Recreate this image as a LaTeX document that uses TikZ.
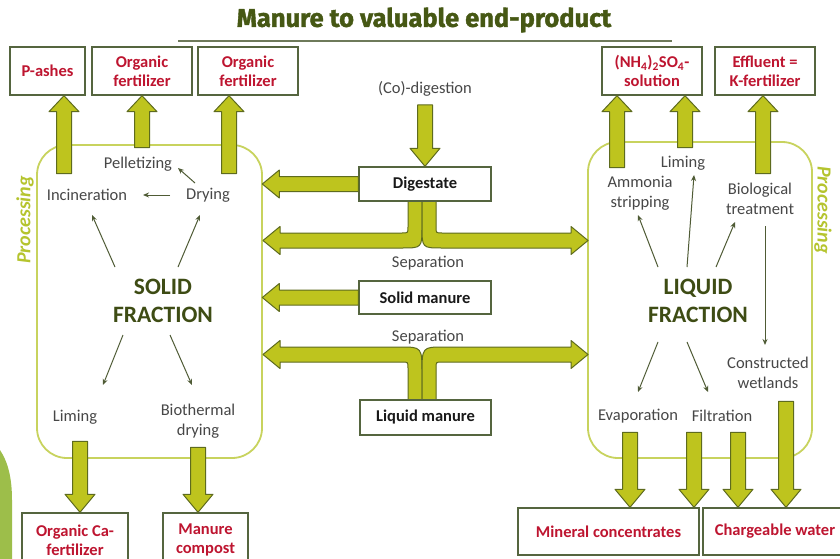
\documentclass[tikz,border=0pt]{standalone}
\usepackage{fontspec}
\setmainfont{Carlito}
\newfontfamily\titlefont[BoldFeatures={FakeBold=1.5}]{Fira Sans}
\usetikzlibrary{calc,arrows.meta}
\definecolor{arrfill}{HTML}{BEC41E}
\definecolor{arrdraw}{HTML}{5E6B1E}
\definecolor{panelc}{HTML}{C8D35E}
\definecolor{procc}{HTML}{B5C42E}
\definecolor{boxc}{HTML}{55653F}
\definecolor{redc}{HTML}{BE1530}
\definecolor{grayc}{HTML}{474747}
\definecolor{darkg}{HTML}{3E4C14}
\definecolor{titlec}{HTML}{465814}
\definecolor{rulec}{HTML}{6E7A5A}
\definecolor{leafc}{HTML}{9DBE4A}
\definecolor{thinc}{HTML}{4F5B35}
\newcommand\blkup[2]{\filldraw[blk] let \p1=(#1), \p2=(#2) in
  (\x2-7.5pt,\y1) -- (\x2-7.5pt,\y2-16pt) -- (\x2-15pt,\y2-16pt) -- (\x2,\y2) --
  (\x2+15pt,\y2-16pt) -- (\x2+7.5pt,\y2-16pt) -- (\x2+7.5pt,\y1) -- cycle;}
\newcommand\blkdown[2]{\filldraw[blk] let \p1=(#1), \p2=(#2) in
  (\x2-7.5pt,\y1) -- (\x2-7.5pt,\y2+18pt) -- (\x2-15pt,\y2+18pt) -- (\x2,\y2) --
  (\x2+15pt,\y2+18pt) -- (\x2+7.5pt,\y2+18pt) -- (\x2+7.5pt,\y1) -- cycle;}
\newcommand\blkleft[2]{\filldraw[blk] let \p1=(#1), \p2=(#2) in
  (\x1,\y2+7.5pt) -- (\x2+17pt,\y2+7.5pt) -- (\x2+17pt,\y2+14pt) -- (\x2,\y2) --
  (\x2+17pt,\y2-14pt) -- (\x2+17pt,\y2-7.5pt) -- (\x1,\y2-7.5pt) -- cycle;}
\begin{document}
\begin{tikzpicture}[x=1pt,y=-1pt,
  blk/.style={fill=arrfill,draw=arrdraw,line width=1pt,line join=round},
  panel/.style={draw=panelc,line width=1.8pt,rounded corners=30pt},
  box/.style={draw=boxc,line width=1.4pt,fill=white,inner sep=2pt,align=center,
    font=\fontsize{16.5}{19}\selectfont\bfseries},
  redbox/.style={box,text=redc},
  blackbox/.style={box,text=black!90},
  lab/.style={text=grayc,font=\fontsize{16.5}{20}\selectfont,align=center,inner sep=1pt},
  frac/.style={text=darkg,font=\fontsize{23.5}{28}\selectfont\bfseries,align=center},
  proc/.style={text=procc,font=\fontsize{20}{24}\selectfont\bfseries\itshape},
  thinarr/.style={draw=thinc,line width=1pt,-{Stealth[length=6pt,width=5pt]}}]
\useasboundingbox (0,0) rectangle (840,559);
\clip (0,0) rectangle (840,559);
\fill[white] (0,0) rectangle (840,559);

% left decorative shape
\fill[leafc] (0,450) .. controls (8,462) and (12,478) .. (12,500) -- (12,559) -- (0,559) -- cycle;

% title
\node[font=\titlefont\bfseries\fontsize{25.5}{30}\selectfont,text=titlec] (title) at (424,20) {Manure to valuable end-product};
\draw[rulec,line width=1.5pt] (178,41) -- (672,41);

% panels
\draw[panel] (37,145) rectangle (262,458);
\draw[panel] (588,142) rectangle (812,458);
\node[proc,rotate=90] (procl) at (25,220) {Processing};
\node[proc,rotate=-90] (procr) at (823,210) {Processing};

% nodes (boxes)
\node[redbox,minimum width=75,minimum height=48] (pash) at (47.5,71) {P-ashes};
\node[redbox,minimum width=100,minimum height=48] (orgf1) at (142,71) {Organic\\fertilizer};
\node[redbox,minimum width=100,minimum height=48] (orgf2) at (248,71) {Organic\\fertilizer};
\node[redbox,minimum width=100,minimum height=48] (amso) at (652,71) {(NH\textsubscript{4})\textsubscript{2}SO\textsubscript{4}-\\solution};
\node[redbox,minimum width=100,minimum height=48] (effl) at (765,71) {Effluent =\\K-fertilizer};
\node[redbox,minimum width=106,minimum height=54] (orgca) at (75,540) {Organic Ca-\\fertilizer};
\node[redbox,minimum width=85,minimum height=54] (comp) at (205.5,540) {Manure\\compost};
\node[redbox,minimum width=181,minimum height=47] (mine) at (608.5,531.5) {Mineral concentrates};
\node[redbox,minimum width=144,minimum height=47] (charge) at (775,531.5) {Chargeable water};

% labels
\node[lab] (codig) at (425,89) {(Co)-digestion};
\node[lab] (sep1) at (428,263) {Separation};
\node[lab] (sep2) at (428,337) {Separation};

% block arrows
\blkup{$(pash.south)+(16.5,78)$}{$(pash.south)+(16.5,0)$}
\blkup{$(orgf1.south)+(0,52)$}{orgf1.south}
\blkup{$(orgf2.south)+(-19,78)$}{$(orgf2.south)+(-19,0)$}
\blkup{$(amso.south)+(-35,72)$}{$(amso.south)+(-35,0)$}
\blkup{$(amso.south)+(33,52)$}{$(amso.south)+(33,0)$}
\blkup{$(effl.south)+(-2,78)$}{$(effl.south)+(-2,0)$}
\blkdown{$(orgca.north)+(5,-71)$}{$(orgca.north)+(5,0)$}
\blkdown{$(comp.north)+(-7.5,-65)$}{$(comp.north)+(-7.5,0)$}
\blkdown{$(mine.north)+(21.5,-75)$}{$(mine.north)+(21.5,0)$}
\blkdown{$(mine.north)+(85.5,-75)$}{$(mine.north)+(85.5,0)$}
\blkdown{$(charge.north)+(-37,-75)$}{$(charge.north)+(-37,0)$}
\blkdown{$(charge.north)+(11,-106)$}{$(charge.north)+(11,0)$}

% split arrows
\filldraw[blk] (408,201) -- (408,227) .. controls (408,233) .. (402,233) -- (280,233) -- (280,226.5) -- (263,240.5) -- (280,254.5) -- (280,248) -- (402,248) .. controls (422,248) .. (422,226) -- (422,201) -- cycle;
\filldraw[blk] (436,201) -- (436,227) .. controls (436,233) .. (442,233) -- (571,233) -- (571,226.5) -- (588,240.5) -- (571,254.5) -- (571,248) -- (442,248) .. controls (422,248) .. (422,226) -- (422,201) -- cycle;
\filldraw[blk] (408,400) -- (408,368) .. controls (408,362) .. (402,362) -- (280,362) -- (280,368.5) -- (263,354.5) -- (280,340.5) -- (280,347) -- (400,347) .. controls (422,347) .. (422,374) -- (422,400) -- cycle;
\filldraw[blk] (436,400) -- (436,368) .. controls (436,362) .. (442,362) -- (571,362) -- (571,368.5) -- (588,354.5) -- (571,340.5) -- (571,347) -- (444,347) .. controls (422,347) .. (422,374) -- (422,400) -- cycle;

% middle boxes
\node[blackbox,minimum width=132,minimum height=34] (dig) at (425,184) {Digestate};
\node[blackbox,minimum width=132,minimum height=33] (solm) at (425,297.5) {Solid manure};
\node[blackbox,minimum width=131,minimum height=35] (liqm) at (425.5,417.5) {Liquid manure};

\blkdown{$(codig)+(0,16)$}{dig.north}
\blkleft{dig.west}{$(dig.west)+(-96,0)$}
\blkleft{solm.west}{$(solm.west)+(-96,0)$}

% left panel contents
\node[lab] (pel) at (138,164) {Pelletizing};
\node[lab] (inc) at (87,195) {Incineration};
\node[lab] (dry) at (208,195) {Drying};
\node[frac] (sf) at (163,301) {SOLID\\FRACTION};
\node[lab] (lim1) at (75,417) {Liming};
\node[lab] (bio) at (198,421.5) {Biothermal\\drying};

\draw[thinarr] ($(dry)+(-38,0)$) -- ($(inc)+(56,0)$);
\draw[thinarr] ($(dry)+(-13,-12)$) -- ($(pel)+(40,4)$);
\draw[thinarr] ($(sf)+(-48,-34)$) -- ($(inc)+(5,20)$);
\draw[thinarr] ($(sf)+(15,-34)$) -- ($(dry)+(-8,20)$);
\draw[thinarr] ($(sf)+(-40,34)$) -- ($(lim1)+(28,-32)$);
\draw[thinarr] ($(sf)+(7,34)$) -- ($(bio)+(-6,-36.5)$);

% right panel contents
\node[lab] (lim2) at (683,163) {Liming};
\node[lab] (amm) at (640,193) {Ammonia\\stripping};
\node[lab] (biol) at (760,198.5) {Biological\\treatment};
\node[frac] (lf) at (698,301) {LIQUID\\FRACTION};
\node[lab] (cw) at (768,373) {Constructed\\wetlands};
\node[lab] (evap) at (638,416) {Evaporation};
\node[lab] (filt) at (722,416) {Filtration};

\draw[thinarr] ($(lf)+(-40,-34)$) -- ($(amm)+(-2,22)$);
\draw[thinarr] ($(lf)+(-11,-34)$) -- ($(lim2)+(11,12)$);
\draw[thinarr] ($(lf)+(18,-34)$) -- ($(biol)+(-25,23.5)$);
\draw[thinarr] ($(biol)+(5,27.5)$) -- ($(cw)+(-3,-28)$);
\draw[thinarr] ($(lf)+(-40,41)$) -- ($(evap)+(0,-24)$);
\draw[thinarr] ($(lf)+(-11,41)$) -- ($(filt)+(-14,-24)$);
\end{tikzpicture}
\end{document}
